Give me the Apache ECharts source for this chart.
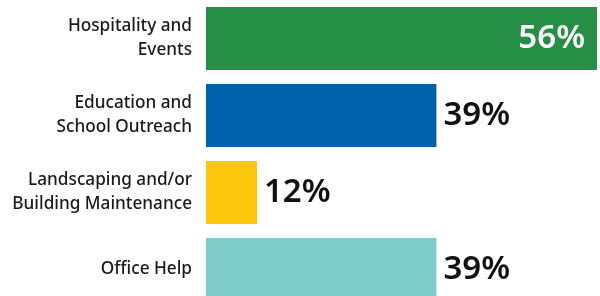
<!DOCTYPE html>
<html>
<head>
<meta charset="utf-8">
<script src="https://cdn.jsdelivr.net/npm/echarts@6/dist/echarts.min.js"></script>
<style>html,body{margin:0;padding:0;background:#fff;overflow:hidden}#c{width:600px;height:308px}</style>
</head>
<body>
<div id="c"></div>
<script>
const categories = ["Hospitality and\nEvents", "Education and\nSchool Outreach", "Landscaping and/or\nBuilding Maintenance", "Office Help"];
const barLengths = [56, 33, 7.3, 33];
const valueLabels = ["56%", "39%", "12%", "39%"];
const colors = ["#258F45", "#0061AC", "#FCC70D", "#7FCDC9"];

const chart = echarts.init(document.getElementById('c'), null, {renderer: 'canvas'});
chart.setOption({
  animation: false,
  grid: {left: 206, top: 0, width: 391, height: 308, containLabel: false},
  xAxis: {type: 'value', min: 0, max: 56, show: false},
  yAxis: {
    type: 'category', inverse: true, data: categories,
    axisLine: {show: false}, axisTick: {show: false},
    axisLabel: {
      margin: 14, align: 'right',
      fontFamily: 'Noto Sans', fontSize: 17.2, fontWeight: 500, lineHeight: 24, color: '#1a1a1a'
    }
  },
  series: [{
    type: 'bar',
    barCategoryGap: '18%',
    data: barLengths.map((v, i) => ({
      value: v,
      itemStyle: {color: colors[i]},
      label: i === 0 ? {position: 'insideRight', distance: 12, color: '#fff'} : {position: 'right', distance: 7, color: '#111'}
    })),
    label: {
      show: true,
      fontFamily: 'Noto Sans', fontSize: 33, fontWeight: 600,
      formatter: p => valueLabels[p.dataIndex]
    }
  }]
});
</script>
</body>
</html>
